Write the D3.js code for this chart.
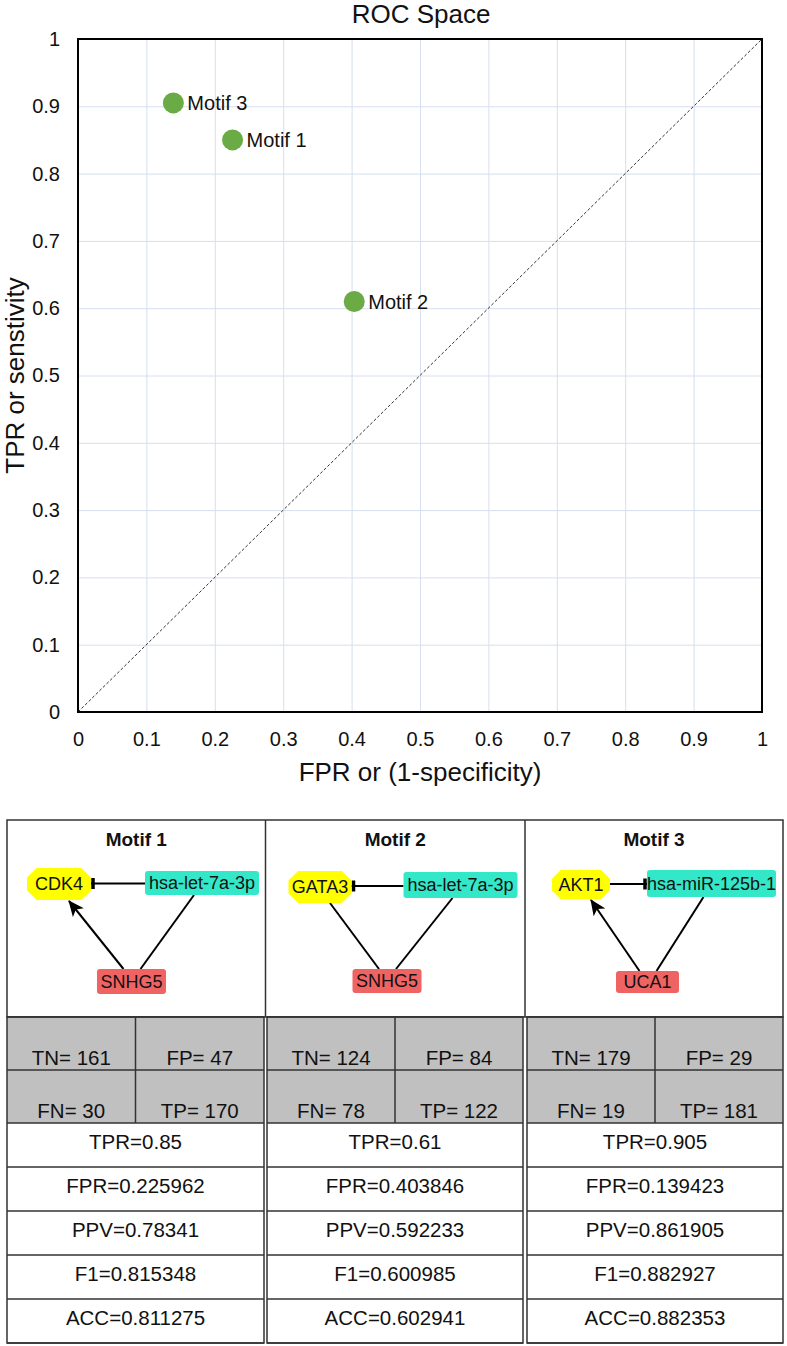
<!DOCTYPE html>
<html>
<head>
<meta charset="utf-8">
<script src="https://cdn.jsdelivr.net/npm/d3@7"></script>
<style>
  html, body { margin: 0; padding: 0; background: #fff; }
  svg { display: block; font-family: "Liberation Sans", Arial, sans-serif; }
</style>
</head>
<body>
<svg id="chart" width="787" height="1346"></svg>
<script>
// ---------------- data ----------------
const motifs = ["Motif 1", "Motif 2", "Motif 3"];
const fprValues = [0.225962, 0.403846, 0.139423];
const tprValues = [0.85, 0.61, 0.905];
const ppvValues = [0.78341, 0.592233, 0.861905];
const f1Values = [0.815348, 0.600985, 0.882927];
const accValues = [0.811275, 0.602941, 0.882353];
const tnValues = [161, 124, 179];
const fpValues = [47, 84, 29];
const fnValues = [30, 78, 19];
const tpValues = [170, 122, 181];
const geneNodes = ["CDK4", "GATA3", "AKT1"];
const mirnaNodes = ["hsa-let-7a-3p", "hsa-let-7a-3p", "hsa-miR-125b-1"];
const lncNodes = ["SNHG5", "SNHG5", "UCA1"];
const lncGeneEdgeType = ["arrow", "line", "arrow"];
const inhibitionEnd = ["gene", "gene", "mirna"];
const axisTicks = [0, 0.1, 0.2, 0.3, 0.4, 0.5, 0.6, 0.7, 0.8, 0.9, 1];
const axisTickLabels = ["0", "0.1", "0.2", "0.3", "0.4", "0.5", "0.6", "0.7", "0.8", "0.9", "1"];

// ---------------- chart ----------------
const svg = d3.select("#chart");
const FONT = '"Liberation Sans", Arial, sans-serif';
const plot = { left: 78, right: 762, top: 39, bottom: 712 };
const x = d3.scaleLinear().domain([0, 1]).range([plot.left, plot.right]);
const y = d3.scaleLinear().domain([0, 1]).range([plot.bottom, plot.top]);
const W = plot.right - plot.left, H = plot.bottom - plot.top;

// gridlines
svg.append("g").attr("transform", `translate(0,${plot.bottom})`)
  .call(d3.axisBottom(x).tickValues(axisTicks).tickSize(-H).tickFormat(""))
  .call(g => g.select(".domain").remove())
  .call(g => g.selectAll("line").attr("stroke", "#d6dfee").attr("stroke-width", 1));
svg.append("g").attr("transform", `translate(${plot.left},0)`)
  .call(d3.axisLeft(y).tickValues(axisTicks).tickSize(-W).tickFormat(""))
  .call(g => g.select(".domain").remove())
  .call(g => g.selectAll("line").attr("stroke", "#d6dfee").attr("stroke-width", 1));

// diagonal
svg.append("line")
  .attr("x1", x(0)).attr("y1", y(0)).attr("x2", x(1)).attr("y2", y(1))
  .attr("stroke", "#333").attr("stroke-width", 1).attr("stroke-dasharray", "3,2");

// frame
svg.append("rect").attr("x", plot.left).attr("y", plot.top).attr("width", W).attr("height", H)
  .attr("fill", "none").attr("stroke", "#000").attr("stroke-width", 2);

// axes labels
svg.append("g").attr("transform", `translate(${plot.left},0)`)
  .call(d3.axisLeft(y).tickValues(axisTicks).tickSize(0).tickPadding(18)
    .tickFormat((d, i) => axisTickLabels[i]))
  .call(g => g.select(".domain").remove())
  .call(g => g.selectAll("text").attr("font-size", 20).attr("font-family", FONT).attr("fill", "#111"));
svg.append("g").attr("transform", `translate(0,${plot.bottom})`)
  .call(d3.axisBottom(x).tickValues(axisTicks).tickSize(0).tickPadding(20)
    .tickFormat((d, i) => axisTickLabels[i]))
  .call(g => g.select(".domain").remove())
  .call(g => g.selectAll("text").attr("font-size", 20).attr("font-family", FONT).attr("fill", "#111"));

// titles
svg.append("text").attr("x", 421).attr("y", 23).attr("text-anchor", "middle")
  .attr("font-size", 26).attr("fill", "#111").text("ROC Space");
svg.append("text").attr("x", 420).attr("y", 781).attr("text-anchor", "middle")
  .attr("font-size", 26).attr("fill", "#111").text("FPR or (1-specificity)");
svg.append("text").attr("transform", `translate(24,${(plot.top + plot.bottom) / 2}) rotate(-90)`)
  .attr("text-anchor", "middle").attr("font-size", 26).attr("fill", "#111").text("TPR or senstivity");

// points
const pts = motifs.map((m, i) => ({ name: m, fpr: fprValues[i], tpr: tprValues[i] }));
svg.append("g").selectAll("circle").data(pts).join("circle")
  .attr("cx", d => x(d.fpr)).attr("cy", d => y(d.tpr)).attr("r", 10.5)
  .attr("fill", "#6aab45");
svg.append("g").selectAll("text").data(pts).join("text")
  .attr("x", d => x(d.fpr) + 14).attr("y", d => y(d.tpr)).attr("dy", "0.36em")
  .attr("font-size", 20).attr("fill", "#111").text(d => d.name);

// ---------------- table ----------------
const tbl = { left: 7, right: 783, top: 820, motifBottom: 1017 };
const motifDividers = [265.5, 525];
const colBoxes = [[7, 264], [267, 523], [527, 783]];
const motifCols = [[7, 265.5], [265.5, 525], [525, 783]];
const grayRows = [1017, 1070, 1123];
const whiteRows = [1123, 1167, 1211, 1255, 1299, 1343];
const LINE = "#333";

// motif section frame
svg.append("rect").attr("x", tbl.left).attr("y", tbl.top)
  .attr("width", tbl.right - tbl.left).attr("height", tbl.motifBottom - tbl.top)
  .attr("fill", "none").attr("stroke", LINE).attr("stroke-width", 1.5);
motifDividers.forEach(xx => svg.append("line").attr("x1", xx).attr("x2", xx)
  .attr("y1", tbl.top).attr("y2", tbl.motifBottom).attr("stroke", LINE).attr("stroke-width", 1.5));

const defs = svg.append("defs");
defs.append("marker").attr("id", "arrow").attr("viewBox", "0 0 16 14")
  .attr("refX", 15).attr("refY", 7).attr("markerWidth", 16).attr("markerHeight", 14)
  .attr("markerUnits", "userSpaceOnUse").attr("orient", "auto")
  .append("path").attr("d", "M0,0 L16,7 L0,14 L4,7 Z").attr("fill", "#000");

// node layout (relative to column left edge)
const layout = [
  { gene: [52, 884, 64, 32], mir: [195, 883, 114, 24], lnc: [124.5, 981.5, 69, 25] },
  { gene: [54.5, 887, 63, 32], mir: [195, 885, 114, 26], lnc: [121.5, 981, 69, 24] },
  { gene: [56, 884.5, 58, 29], mir: [186.5, 883.5, 129, 27], lnc: [122.5, 982, 63, 22] }
];

function octagon(cx, cy, w, h) {
  const c = h * 0.3, hw = w / 2, hh = h / 2;
  return [[cx - hw + c, cy - hh], [cx + hw - c, cy - hh], [cx + hw, cy - hh + c], [cx + hw, cy + hh - c],
          [cx + hw - c, cy + hh], [cx - hw + c, cy + hh], [cx - hw, cy + hh - c], [cx - hw, cy - hh + c]]
    .map(p => p.join(",")).join(" ");
}

motifs.forEach((m, i) => {
  const [cl, cr] = motifCols[i];
  const L = layout[i];
  const g = svg.append("g");
  g.append("text").attr("x", (cl + cr) / 2).attr("y", 846).attr("text-anchor", "middle")
    .attr("font-size", 19).attr("font-weight", "bold").attr("fill", "#111").text(m);

  const gx = cl + L.gene[0], gy = L.gene[1], gw = L.gene[2], gh = L.gene[3];
  const mx = cl + L.mir[0], my = L.mir[1], mw = L.mir[2], mh = L.mir[3];
  const lx = cl + L.lnc[0], ly = L.lnc[1], lw = L.lnc[2], lh = L.lnc[3];

  // edges
  const geneRight = gx + gw / 2, mirLeft = mx - mw / 2;
  const ey = (gy + my) / 2;
  g.append("line").attr("x1", geneRight).attr("x2", mirLeft).attr("y1", ey).attr("y2", ey)
    .attr("stroke", "#000").attr("stroke-width", 2);
  const barX = inhibitionEnd[i] === "gene" ? geneRight + 2 : mirLeft - 2;
  g.append("line").attr("x1", barX).attr("x2", barX).attr("y1", ey - 5.5).attr("y2", ey + 5.5)
    .attr("stroke", "#000").attr("stroke-width", 3.5);

  const lg = g.append("line").attr("x1", lx - 8).attr("y1", ly - lh / 2)
    .attr("x2", gx + 10).attr("y2", gy + gh / 2 + (lncGeneEdgeType[i] === "arrow" ? 1 : 0))
    .attr("stroke", "#000").attr("stroke-width", 2);
  if (lncGeneEdgeType[i] === "arrow") lg.attr("marker-end", "url(#arrow)");
  g.append("line").attr("x1", lx + 9).attr("y1", ly - lh / 2)
    .attr("x2", mx - 8).attr("y2", my + mh / 2)
    .attr("stroke", "#000").attr("stroke-width", 2);

  // nodes
  g.append("polygon").attr("points", octagon(gx, gy, gw, gh)).attr("fill", "#ffff00");
  g.append("text").attr("x", gx).attr("y", gy).attr("dy", "0.36em").attr("text-anchor", "middle")
    .attr("font-size", 18).attr("fill", "#111").text(geneNodes[i]);
  g.append("rect").attr("x", mx - mw / 2).attr("y", my - mh / 2).attr("width", mw).attr("height", mh)
    .attr("rx", 3).attr("fill", "#33e8c8");
  g.append("text").attr("x", mx).attr("y", my).attr("dy", "0.36em").attr("text-anchor", "middle")
    .attr("font-size", 18).attr("fill", "#111").text(mirnaNodes[i]);
  g.append("rect").attr("x", lx - lw / 2).attr("y", ly - lh / 2).attr("width", lw).attr("height", lh)
    .attr("rx", 3).attr("fill", "#f06363");
  g.append("text").attr("x", lx).attr("y", ly).attr("dy", "0.36em").attr("text-anchor", "middle")
    .attr("font-size", 18).attr("fill", "#111").text(lncNodes[i]);
});

// lower tables
motifs.forEach((m, i) => {
  const [a, b] = colBoxes[i];
  const mid = (a + b) / 2;
  const g = svg.append("g");
  g.append("rect").attr("x", a).attr("y", grayRows[0]).attr("width", b - a)
    .attr("height", grayRows[2] - grayRows[0]).attr("fill", "#c0c0c0");
  const cells = [
    [`TN= ${tnValues[i]}`, `FP= ${fpValues[i]}`],
    [`FN= ${fnValues[i]}`, `TP= ${tpValues[i]}`]
  ];
  cells.forEach((row, r) => {
    row.forEach((txt, c) => {
      g.append("text").attr("x", c === 0 ? (a + mid) / 2 : (mid + b) / 2)
        .attr("y", grayRows[r + 1] - 5).attr("text-anchor", "middle")
        .attr("font-size", 20.5).attr("fill", "#111").text(txt);
    });
  });
  // gray grid lines
  g.append("line").attr("x1", mid).attr("x2", mid).attr("y1", grayRows[0]).attr("y2", grayRows[2])
    .attr("stroke", LINE).attr("stroke-width", 1.5);
  grayRows.forEach(yy => g.append("line").attr("x1", a).attr("x2", b).attr("y1", yy).attr("y2", yy)
    .attr("stroke", LINE).attr("stroke-width", 1.5));
  const metrics = [
    `TPR=${tprValues[i]}`, `FPR=${fprValues[i]}`, `PPV=${ppvValues[i]}`,
    `F1=${f1Values[i]}`, `ACC=${accValues[i]}`
  ];
  metrics.forEach((txt, r) => {
    g.append("text").attr("x", mid).attr("y", whiteRows[r] + 26).attr("text-anchor", "middle")
      .attr("font-size", 20.5).attr("fill", "#111").text(txt);
    g.append("line").attr("x1", a).attr("x2", b).attr("y1", whiteRows[r + 1]).attr("y2", whiteRows[r + 1])
      .attr("stroke", LINE).attr("stroke-width", 1.5);
  });
  g.append("rect").attr("x", a).attr("y", grayRows[0]).attr("width", b - a)
    .attr("height", whiteRows[5] - grayRows[0]).attr("fill", "none")
    .attr("stroke", LINE).attr("stroke-width", 1.5);
});
</script>
</body>
</html>
